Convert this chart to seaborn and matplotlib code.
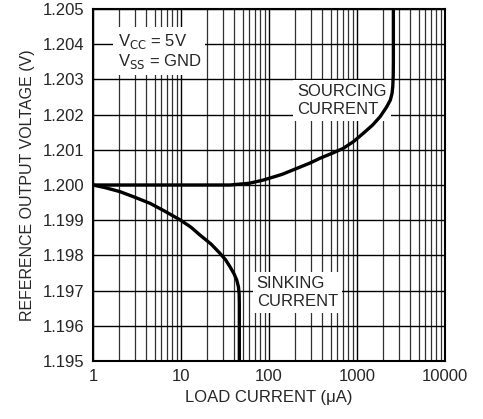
import numpy as np
import pandas as pd
import matplotlib
matplotlib.use("Agg")
import matplotlib.pyplot as plt
import matplotlib.ticker as mticker
import seaborn as sns

# values
source_current = [1, 10, 36, 60, 86, 140, 206, 290, 380, 520, 697, 920, 1180, 1500, 1830, 2150,
                  2390, 2500, 2550, 2580, 2590, 2590]
source_voltage = [1.2000, 1.2000, 1.2000, 1.20005, 1.20014, 1.2003, 1.20047, 1.20062, 1.20076, 1.2009,
                  1.20104, 1.20124, 1.20147, 1.2017, 1.20194, 1.2022, 1.20241, 1.2026, 1.2028,
                  1.2031, 1.2035, 1.2050]

sink_current = [1, 1.4, 2.03, 3.0, 4.44, 6.5, 9.75, 13, 16.4, 22, 27.7, 32, 36, 40, 43, 45, 45.8, 46, 46]
sink_voltage = [1.2000, 1.19992, 1.19981, 1.19965, 1.19948, 1.19926, 1.19901, 1.1988, 1.19858, 1.19832,
                1.19806, 1.19788, 1.19768, 1.19748, 1.1973, 1.1971, 1.1969, 1.1966, 1.1950]

x_ticks = [1, 10, 100, 1000, 10000]
y_ticks = [1.195, 1.196, 1.197, 1.198, 1.199, 1.200, 1.201, 1.202, 1.203, 1.204, 1.205]

sns.set_style("white")
plt.rcParams['font.family'] = ['Liberation Sans', 'DejaVu Sans']

fig = plt.figure(figsize=(4.83, 4.19), dpi=100)
ax = fig.add_axes([93 / 483, 1 - 361 / 419, 352 / 483, 352 / 419])

ax.set_xscale('log')
ax.set_xlim(1, 10000)
ax.set_ylim(1.195, 1.205)
ax.set_xticks(x_ticks)
ax.xaxis.set_major_formatter(mticker.FuncFormatter(lambda v, p: f"{v:g}"))
ax.xaxis.set_minor_locator(mticker.LogLocator(base=10, subs=np.arange(2, 10)))
ax.xaxis.set_minor_formatter(mticker.NullFormatter())
ax.set_yticks(y_ticks)
ax.set_yticklabels([f"{v:.3f}" for v in y_ticks])

ax.grid(which='major', axis='both', color='black', linewidth=1.0)
ax.grid(which='minor', axis='x', color='#303030', linewidth=0.9)
ax.tick_params(which='both', length=0, labelsize=12, pad=6)

src = pd.DataFrame({'current': source_current, 'voltage': source_voltage})
snk = pd.DataFrame({'current': sink_current, 'voltage': sink_voltage})
sns.lineplot(data=src, x='current', y='voltage', ax=ax, color='black', linewidth=2.4,
             sort=False, estimator=None, zorder=5)
sns.lineplot(data=snk, x='current', y='voltage', ax=ax, color='black', linewidth=2.4,
             sort=False, estimator=None, zorder=5)
for ln in ax.lines:
    ln.set_solid_joinstyle('round')
    ln.set_clip_on(True)

for s in ax.spines.values():
    s.set_color('black')
    s.set_linewidth(1.5)
    s.set_zorder(6)

box = dict(facecolor='white', edgecolor='none', pad=3)
ax.text(0.07, 0.88, "V$_{\\mathrm{CC}}$ = 5V\nV$_{\\mathrm{SS}}$ = GND", transform=ax.transAxes,
        fontsize=12, va='center', ha='left', bbox=box, zorder=4, linespacing=1.1)
ax.text(0.58, 0.74, "SOURCING\nCURRENT", transform=ax.transAxes,
        fontsize=12, va='center', ha='left', bbox=box, zorder=4, linespacing=1.2)
ax.text(0.465, 0.195, "SINKING\nCURRENT", transform=ax.transAxes,
        fontsize=12, va='center', ha='left', bbox=box, zorder=4, linespacing=1.2)

ax.set_xlabel("LOAD CURRENT (\u03bcA)", fontsize=12, labelpad=4)
ax.set_ylabel("REFERENCE OUTPUT VOLTAGE (V)", fontsize=11.5, labelpad=6)

fig.savefig("out.png", dpi=100)
